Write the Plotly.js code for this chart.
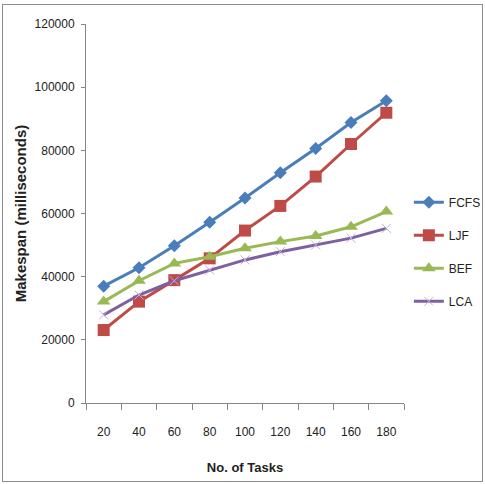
<!DOCTYPE html>
<html>
<head>
<meta charset="utf-8">
<script src="https://cdn.plot.ly/plotly-3.0.1.min.js"></script>
<style>
html,body{margin:0;padding:0;background:#fff;}
#chart{position:absolute;left:0;top:0;width:485px;height:484px;}
#frame{position:absolute;left:2px;top:4px;width:479px;height:476px;border:1.5px solid #8c8c8c;pointer-events:none;}
</style>
</head>
<body>
<div id="chart"></div>
<div id="frame"></div>
<script>
const tasks = ['20','40','60','80','100','120','140','160','180'];
const fcfs = [37000, 42800, 49800, 57200, 64900, 72900, 80600, 88800, 95700];
const ljf  = [23100, 32100, 38900, 45800, 54600, 62400, 71700, 82000, 91900];
const bef  = [32100, 38700, 44200, 46300, 49000, 51100, 52900, 55800, 60600];
const lca  = [27900, 34200, 38700, 42100, 45300, 47900, 50000, 52200, 55300];
const names = ['FCFS','LJF','BEF','LCA'];

const lineW = 3;
const traces = [
  {x: tasks, y: fcfs, name: names[0], legendgroup:'a', type:'scatter', mode:'lines+markers',
   line:{color:'#4a7ebb', width:lineW}, marker:{symbol:'diamond', size:10, color:'#4a7ebb'}},
  {x: tasks, y: ljf, name: names[1], legendgroup:'b', type:'scatter', mode:'lines+markers',
   line:{color:'#be4b48', width:lineW}, marker:{symbol:'square', size:12, color:'#be4b48'}},
  {x: tasks, y: bef, name: names[2], legendgroup:'c', type:'scatter', mode:'lines+markers',
   line:{color:'#98b954', width:lineW}, marker:{symbol:'triangle-up', size:12, color:'#98b954'}},
  {x: tasks, y: lca, name: names[3], legendgroup:'d', type:'scatter', mode:'lines+markers',
   line:{color:'#7d60a0', width:lineW}, marker:{symbol:'x-thin-open', size:9, color:'#c0b0dc', line:{color:'#c0b0dc', width:1}}}
];

const fam = '"Liberation Sans", Arial, sans-serif';
const tickFont = {family:fam, size:12, color:'#222'};
const layout = {
  width:485, height:484,
  margin:{l:86, r:81, t:24, b:81, autoexpand:false},
  paper_bgcolor:'#fff', plot_bgcolor:'#fff',
  showlegend:true,
  legend:{xref:'container', yref:'container', x:0.843, xanchor:'left', y:0.612, yanchor:'top', tracegroupgap:14,
    font:{family:fam, size:12, color:'#222'}, itemwidth:30, bgcolor:'rgba(0,0,0,0)'},
  xaxis:{type:'category', range:[-0.5, 8.5], tickson:'boundaries', ticks:'outside', ticklen:6, tickcolor:'#868686',
    showline:true, linecolor:'#868686', linewidth:1, showgrid:false, zeroline:false, automargin:false,
    tickfont:tickFont, tickangle:0, ticklabelstandoff:18,
    title:{text:'No. of Tasks', font:{family:fam, size:13, weight:'bold', color:'#222'}, standoff:24}},
  yaxis:{range:[0,120000], dtick:20000, ticks:'outside', ticklen:4, tickcolor:'#868686',
    showline:true, linecolor:'#868686', linewidth:1, showgrid:false, zeroline:false, automargin:false,
    tickfont:tickFont, tickformat:'d', ticklabelstandoff:4,
    title:{text:'Makespan (milliseconds)', font:{family:fam, size:15, weight:'bold', color:'#222'}, standoff:4}}
};
Plotly.newPlot('chart', traces, layout, {displayModeBar:false, staticPlot:true});
</script>
</body>
</html>
